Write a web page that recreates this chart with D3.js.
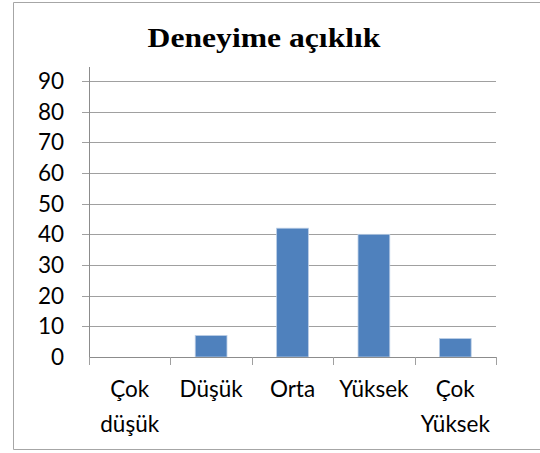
<!DOCTYPE html>
<html>
<head>
<meta charset="utf-8">
<script src="https://cdn.jsdelivr.net/npm/d3@7"></script>
<style>
  body { margin: 0; background: #fff; }
  svg { display: block; }
</style>
</head>
<body>
<svg width="540" height="453"></svg>
<script>
const width = 540;
const height = 453;

const categories = [["Çok", "düşük"], ["Düşük"], ["Orta"], ["Yüksek"], ["Çok", "Yüksek"]];
const values = [0, 7, 42, 40, 6];
const yTicks = [0, 10, 20, 30, 40, 50, 60, 70, 80, 90];
const title = "Deneyime açıklık";

const plotLeft = 89, plotRight = 496, plotTop = 81, plotBottom = 357;
const labelFont = "Lato, 'Open Sans', sans-serif";
const labelSize = 22.5;

const svg = d3.select("svg");

svg.append("rect").attr("width", width).attr("height", height).attr("fill", "#fff");

// chart frame (right edge is cut off)
svg.append("path")
  .attr("d", `M${width},2.5 H13.5 V449.5 H${width}`)
  .attr("fill", "none")
  .attr("stroke", "#a6a6a6")
  .attr("stroke-width", 1);

const xScale = d3.scaleBand()
  .domain(d3.range(categories.length))
  .range([plotLeft, plotRight]);

const yScale = d3.scaleLinear()
  .domain([0, 90])
  .range([plotBottom, plotTop]);

// gridlines
svg.append("g")
  .selectAll("line")
  .data(yTicks.slice(1))
  .enter()
  .append("line")
  .attr("x1", plotLeft - 7)
  .attr("x2", plotRight)
  .attr("y1", d => Math.round(yScale(d)) + 0.5)
  .attr("y2", d => Math.round(yScale(d)) + 0.5)
  .attr("stroke", "#a0a0a0");

// y axis line
svg.append("line")
  .attr("x1", plotLeft + 0.5).attr("x2", plotLeft + 0.5)
  .attr("y1", 67).attr("y2", plotBottom)
  .attr("stroke", "#8c8c8c");

// y labels
svg.append("g")
  .selectAll("text")
  .data(yTicks)
  .enter()
  .append("text")
  .attr("x", 64)
  .attr("y", d => yScale(d) + 8)
  .attr("text-anchor", "end")
  .attr("font-family", labelFont)
  .attr("font-size", labelSize)
  .attr("fill", "#000")
  .text(d => d);

// bars
const barW = xScale.bandwidth() * 0.39;
svg.append("g")
  .selectAll("rect")
  .data(values)
  .enter()
  .append("rect")
  .attr("x", (d, i) => xScale(i) + (xScale.bandwidth() - barW) / 2)
  .attr("y", d => yScale(d))
  .attr("width", barW)
  .attr("height", d => plotBottom - yScale(d))
  .attr("fill", "#4f81bd")
  .attr("stroke", "#b9cde5")
  .attr("stroke-width", 0.8)
  .attr("display", d => d > 0 ? null : "none");

// x axis line and ticks
svg.append("line")
  .attr("x1", plotLeft).attr("x2", plotRight)
  .attr("y1", plotBottom + 0.5).attr("y2", plotBottom + 0.5)
  .attr("stroke", "#8c8c8c");

const tickXs = d3.range(categories.length + 1).map(i => i < categories.length ? xScale(i) : plotRight);
svg.append("g")
  .selectAll("line")
  .data(tickXs)
  .enter()
  .append("line")
  .attr("x1", d => Math.round(d) + 0.5)
  .attr("x2", d => Math.round(d) + 0.5)
  .attr("y1", plotBottom)
  .attr("y2", plotBottom + 8)
  .attr("stroke", "#a0a0a0");

// category labels
const catG = svg.append("g");
categories.forEach((lines, i) => {
  lines.forEach((line, j) => {
    catG.append("text")
      .attr("x", xScale(i) + xScale.bandwidth() / 2)
      .attr("y", 397 + j * 35)
      .attr("text-anchor", "middle")
      .attr("font-family", labelFont)
      .attr("font-size", labelSize)
      .attr("fill", "#000")
      .text(line);
  });
});

// title
svg.append("text")
  .attr("transform", "translate(264,46.5) scale(1.13,1)")
  .attr("text-anchor", "middle")
  .attr("font-family", "Liberation Serif")
  .attr("font-weight", "bold")
  .attr("font-size", 28)
  .attr("fill", "#000")
  .text(title);
</script>
</body>
</html>
